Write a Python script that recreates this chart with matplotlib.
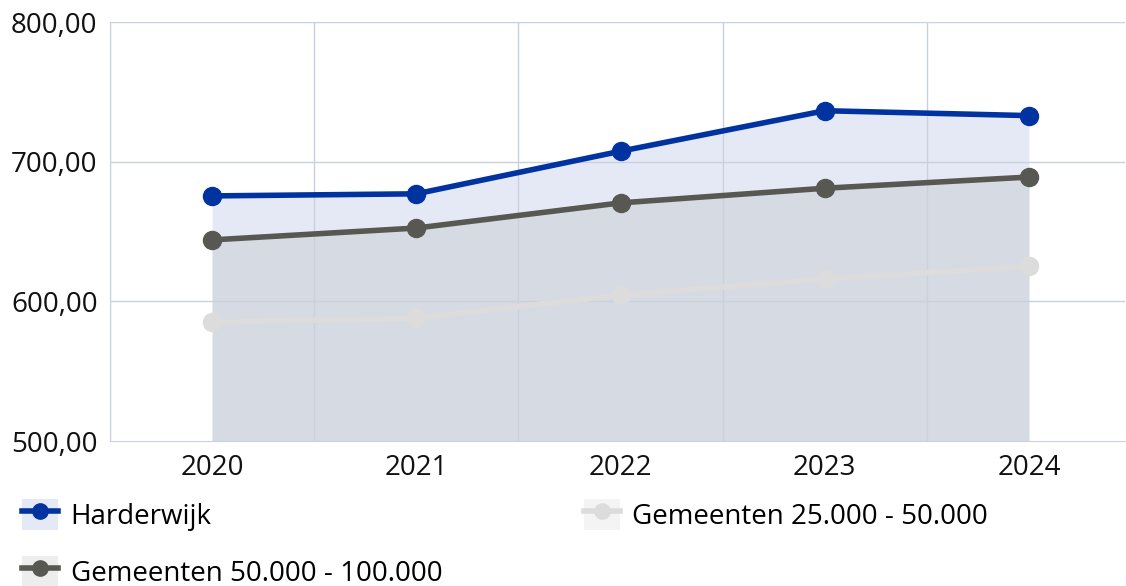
import matplotlib.pyplot as plt
from matplotlib.lines import Line2D
from matplotlib.patches import Patch
from matplotlib.ticker import FuncFormatter

plt.rcParams["font.family"] = ["Open Sans", "DejaVu Sans"]

years = ["2020", "2021", "2022", "2023", "2024"]
harderwijk = [675.5, 677.0, 707.5, 736.5, 733.0]
gem_50_100 = [644.0, 652.5, 670.5, 681.0, 689.0]
gem_25_50 = [585.0, 588.0, 604.5, 616.0, 625.0]

BLUE, DARK, LIGHT = "#0033a0", "#585852", "#dcdcdc"
FILL_BLUE, FILL_DARK, FILL_LIGHT = "#e5e9f5", "#d6dae3", "#f4f4f4"
GRID = "#c9d1dc"

fig = plt.figure(figsize=(11.26, 5.86), dpi=100)
ax = fig.add_axes([0.0977, 0.2474, 0.9013, 0.715])

x = list(range(len(years)))
ax.fill_between(x, 500, harderwijk, color=FILL_BLUE, lw=0, zorder=1)
ax.fill_between(x, 500, gem_50_100, color=FILL_DARK, lw=0, zorder=1)

for xv in [-0.5, 0.5, 1.5, 2.5, 3.5]:
    ax.axvline(xv, color=GRID, lw=1, zorder=2)
for yv in [600, 700, 800]:
    ax.axhline(yv, color=GRID, lw=1, zorder=2)

ax.plot(x, gem_25_50, color=LIGHT, lw=4, marker="o", ms=13, zorder=3)
ax.plot(x, gem_50_100, color=DARK, lw=4, marker="o", ms=13, zorder=4)
ax.plot(x, harderwijk, color=BLUE, lw=4, marker="o", ms=13, zorder=5)

ax.set_xlim(-0.5, 4.47)
ax.set_ylim(500, 800)
ax.set_xticks(x)
ax.set_xticklabels(years)
ax.set_yticks([500, 600, 700, 800])
ax.yaxis.set_major_formatter(FuncFormatter(lambda v, p: f"{v:.2f}".replace(".", ",")))
ax.tick_params(length=0, labelsize=20, colors="#111111", pad=9)
ax.tick_params(axis="y", pad=9)
for side in ["top", "right"]:
    ax.spines[side].set_visible(False)
for side in ["left", "bottom"]:
    ax.spines[side].set_color(GRID)

def handle(fill, color):
    return (Patch(facecolor=fill, edgecolor="none"),
            Line2D([], [], color=color, lw=4, marker="o", ms=11))

handles = [handle(FILL_BLUE, BLUE), handle("#ededed", DARK), handle(FILL_LIGHT, LIGHT)]
labels = ["Harderwijk", "Gemeenten 50.000 - 100.000", "Gemeenten 25.000 - 50.000"]
fig.legend(handles, labels, loc="upper left", bbox_to_anchor=(0.0195, 0.148),
           ncol=2, frameon=False, fontsize=20, handlelength=1.3, handleheight=1.3,
           handletextpad=0.45, columnspacing=5.1, labelspacing=0.92,
           borderaxespad=0, borderpad=0)

fig.savefig("out.png", dpi=100)
